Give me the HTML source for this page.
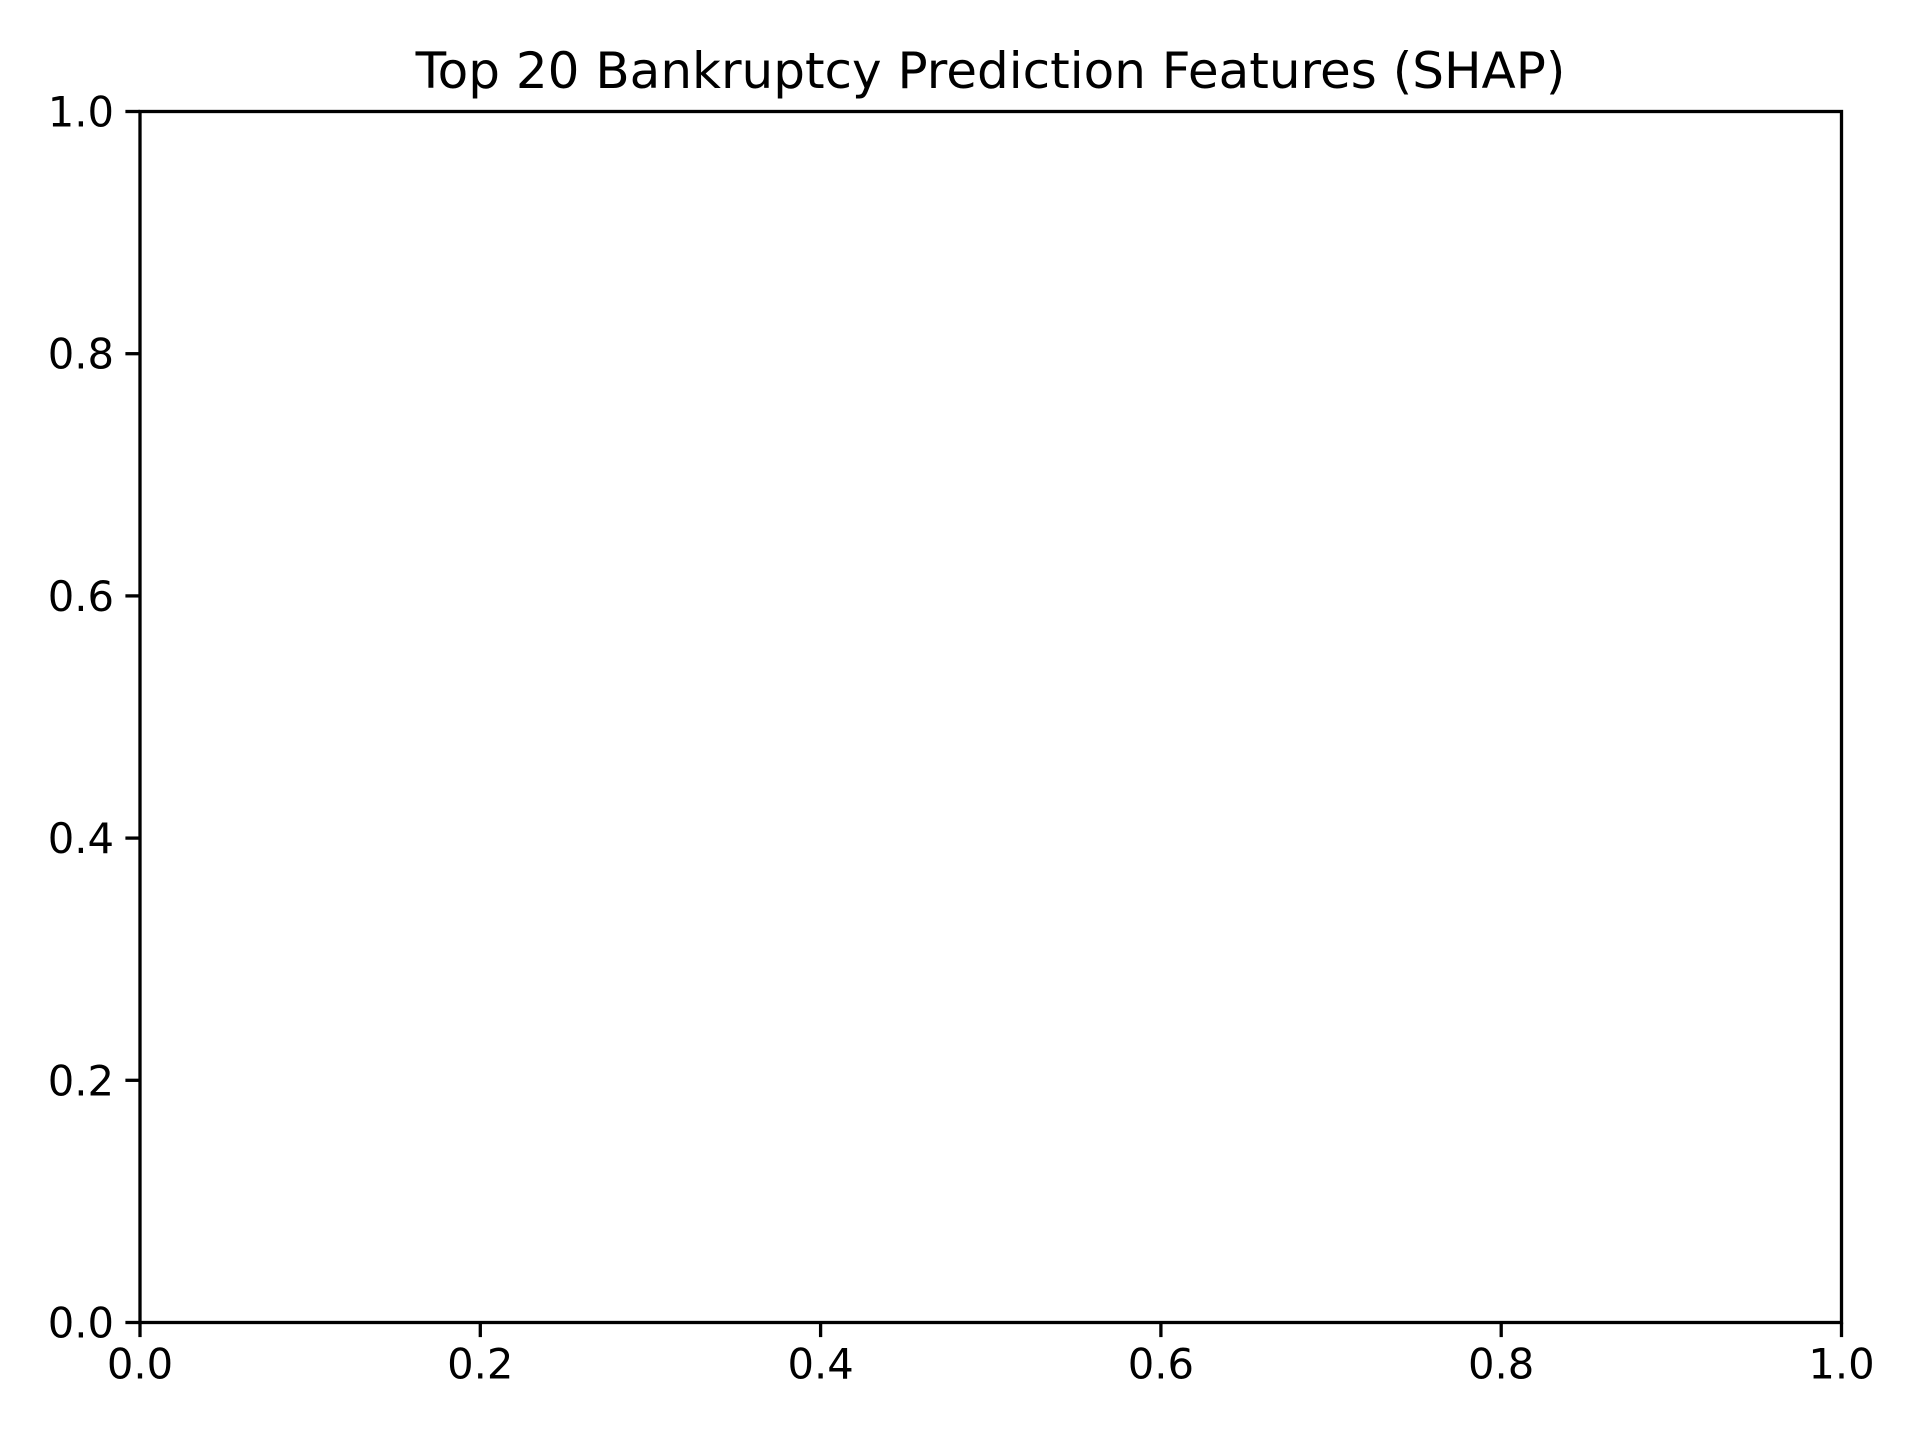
<!DOCTYPE html>
<html>
<head>
<meta charset="utf-8">
<style>
  html, body { margin: 0; padding: 0; background: #ffffff; }
  svg { display: block; }
  text { font-family: "DejaVu Sans", "Liberation Sans", sans-serif; fill: #000; }
</style>
</head>
<body>
<svg id="chart" width="1920" height="1440" viewBox="0 0 1920 1440" xmlns="http://www.w3.org/2000/svg">
  <rect x="0" y="0" width="1920" height="1440" fill="#ffffff"/>
  <text x="990.5" y="88" font-size="50" text-anchor="middle">Top 20 Bankruptcy Prediction Features (SHAP)</text>
  <g id="axes"></g>
</svg>
<script>
const xTickValues = [0.0, 0.2, 0.4, 0.6, 0.8, 1.0];
const yTickValues = [0.0, 0.2, 0.4, 0.6, 0.8, 1.0];
const xTickLabels = ["0.0", "0.2", "0.4", "0.6", "0.8", "1.0"];
const yTickLabels = ["0.0", "0.2", "0.4", "0.6", "0.8", "1.0"];

const L = 140, R = 1841.5, T = 111.5, B = 1322.5;
const NS = "http://www.w3.org/2000/svg";
const g = document.getElementById('axes');
function xs(v) { return L + (R - L) * v; }
function ys(v) { return B - (B - T) * v; }
function mk(tag, attrs) {
  const e = document.createElementNS(NS, tag);
  for (const k in attrs) e.setAttribute(k, attrs[k]);
  g.appendChild(e);
  return e;
}
const frame = mk('rect', {x: L, y: T, width: R - L, height: B - T, fill: 'none', stroke: '#000', 'stroke-width': 3.3});



xTickValues.forEach((v, i) => {
  const t = mk('line', {x1: xs(v), x2: xs(v), y1: B, y2: B + 14.6, stroke: '#000', 'stroke-width': 3.3});
  
  
  const lb = mk('text', {x: xs(v), y: B + 56, 'font-size': 41.7, 'text-anchor': 'middle'});
  lb.textContent = xTickLabels[i];
  
  
});
yTickValues.forEach((v, i) => {
  const t = mk('line', {x1: L - 14.6, x2: L, y1: ys(v), y2: ys(v), stroke: '#000', 'stroke-width': 3.3});
  
  
  const lb = mk('text', {x: L - 26, y: ys(v) + 15, 'font-size': 41.7, 'text-anchor': 'end'});
  lb.textContent = yTickLabels[i];
  
  
});
</script>
</body>
</html>
